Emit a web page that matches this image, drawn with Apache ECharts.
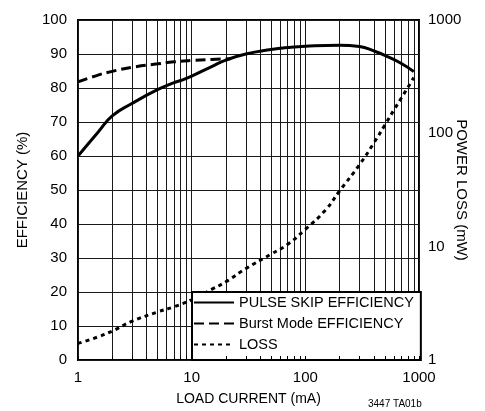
<!DOCTYPE html>
<html>
<head>
<meta charset="utf-8">
<script src="https://cdn.jsdelivr.net/npm/echarts@6/dist/echarts.min.js"></script>
<style>
html,body{margin:0;padding:0;background:#fff;}
#chart{width:485px;height:411px;}
</style>
</head>
<body>
<div id="chart"></div>
<script>
// ---- data ----
var xLabelValues = [1, 10, 100, 1000];
var xGridValues = [1,2,3,4,5,6,7,8,9,10,20,30,40,50,60,70,80,90,100,200,300,400,500,600,700,800,900,1000];
var rightLabelValues = [1, 10, 100, 1000];

var pulseSkipCurrent = [1, 1.5, 2, 3, 5, 7, 8, 10, 15, 20, 30, 50, 70, 100, 200, 300, 400, 500, 700, 900];
var pulseSkipEff     = [60, 67, 71.8, 75.5, 79.5, 81.6, 82.2, 83.5, 86.3, 88.2, 90, 91.3, 91.9, 92.3, 92.6, 92.2, 90.9, 89.6, 87.2, 84.8];

var burstCurrent = [1, 1.5, 2, 3, 5, 7, 10, 15, 22];
var burstEff     = [81.8, 83.8, 84.9, 86.1, 87.1, 87.7, 88.1, 88.4, 88.6];

var lossCurrent = [1, 1.5, 2, 3, 5, 7, 10, 15, 20, 30, 50, 70, 100, 150, 200, 300, 400, 500, 600, 700, 900];
var lossPower   = [1.4, 1.6, 1.8, 2.2, 2.65, 2.95, 3.4, 4.2, 4.9, 6.4, 8.6, 10.5, 14.2, 21, 31, 53, 82, 118, 160, 205, 310];

var seriesNames = ['PULSE SKIP EFFICIENCY', 'Burst Mode EFFICIENCY', 'LOSS'];

function zip(a, b) { return a.map(function (v, i) { return [v, b[i]]; }); }
function plain(v) { return String(v); }

var FONT = "'Liberation Sans', Arial, Helvetica, sans-serif";

var chart = echarts.init(document.getElementById('chart'), null, {renderer: 'canvas'});
chart.setOption({
  animation: false,
  backgroundColor: '#fff',
  textStyle: {fontFamily: FONT, color: '#000'},
  grid: {left: 78, top: 20, width: 341, height: 340, show: true, borderColor: '#000', borderWidth: 2,
         backgroundColor: 'transparent', containLabel: false, outerBoundsMode: 'none'},
  xAxis: [{
    type: 'log', logBase: 10, min: 1, max: 1000,
    name: 'LOAD CURRENT (mA)', nameLocation: 'middle', nameGap: 32, nameMoveOverlap: false,
    nameTextStyle: {fontFamily: FONT, fontSize: 14, color: '#000'},
    axisLine: {show: false},
    axisTick: {show: false, customValues: xGridValues},
    axisLabel: {customValues: xLabelValues, formatter: plain, fontFamily: FONT, fontSize: 15, color: '#000', margin: 10},
    splitLine: {show: true, lineStyle: {color: '#1a1a1a', width: 1}},
    minorSplitLine: {show: false}
  }, {
    type: 'log', logBase: 10, min: 1, max: 1000, position: 'bottom', z: 10,
    axisLine: {show: false},
    axisTick: {show: true, inside: true, length: 4, customValues: xGridValues, lineStyle: {color: '#000', width: 1}},
    axisLabel: {show: false},
    splitLine: {show: false}
  }],
  yAxis: [{
    type: 'value', min: 0, max: 100, interval: 10,
    name: 'EFFICIENCY (%)', nameLocation: 'middle', nameGap: 48, nameMoveOverlap: false,
    nameTextStyle: {fontFamily: FONT, fontSize: 15, color: '#000'},
    axisLine: {show: false}, axisTick: {show: false},
    axisLabel: {fontFamily: FONT, fontSize: 15, color: '#000', margin: 11},
    splitLine: {show: true, lineStyle: {color: '#1a1a1a', width: 1}}
  }, {
    type: 'log', logBase: 10, min: 1, max: 1000, position: 'right',
    name: 'POWER LOSS (mW)', nameLocation: 'middle', nameGap: 35, nameRotate: -90, nameMoveOverlap: false,
    nameTextStyle: {fontFamily: FONT, fontSize: 15, color: '#000'},
    axisLine: {show: false}, axisTick: {show: false},
    axisLabel: {customValues: rightLabelValues, formatter: plain, fontFamily: FONT, fontSize: 15, color: '#000', margin: 9},
    splitLine: {show: false}, minorSplitLine: {show: false}
  }],
  legend: {
    orient: 'vertical', left: 192, top: 292,
    backgroundColor: '#fff', borderColor: '#000', borderWidth: 2,
    padding: [0, 7, 5, 1], itemGap: 0, itemWidth: 40, itemHeight: 14, itemTextGap: 4,
    itemStyle: {opacity: 0},
    textStyle: {fontFamily: FONT, fontSize: 14.5, color: '#000', lineHeight: 21},
    data: seriesNames
  },
  graphic: [{
    type: 'text', left: 368, top: 399,
    style: {text: '3447 TA01b', font: "10px 'Liberation Sans', Arial, sans-serif", fill: '#000'}
  }],
  series: [{
    name: seriesNames[0], type: 'line', xAxisIndex: 0, yAxisIndex: 0,
    data: zip(pulseSkipCurrent, pulseSkipEff), smooth: true, symbol: 'none',
    lineStyle: {color: '#000', width: 3}, itemStyle: {color: '#000'}
  }, {
    name: seriesNames[1], type: 'line', xAxisIndex: 0, yAxisIndex: 0,
    data: zip(burstCurrent, burstEff), smooth: true, symbol: 'none',
    lineStyle: {color: '#000', width: 3, type: [10, 5]}, itemStyle: {color: '#000'}
  }, {
    name: seriesNames[2], type: 'line', xAxisIndex: 0, yAxisIndex: 1,
    data: zip(lossCurrent, lossPower), smooth: true, symbol: 'none',
    lineStyle: {color: '#000', width: 3, type: [4, 4]}, itemStyle: {color: '#000'}
  }]
});
</script>
</body>
</html>
